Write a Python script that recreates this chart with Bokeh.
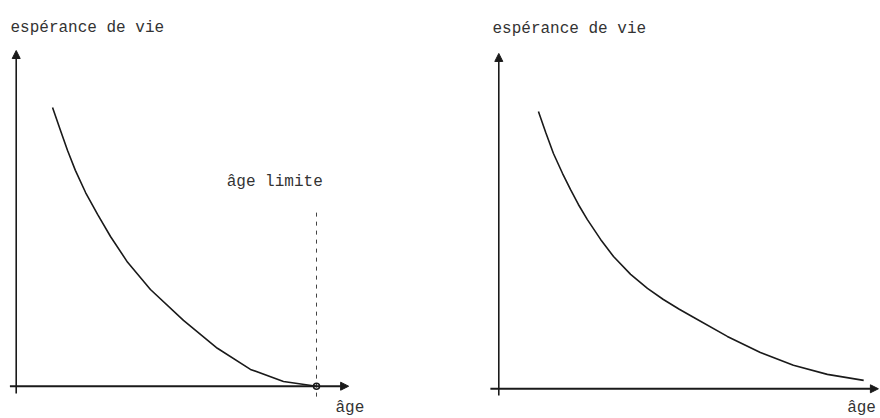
from bokeh.plotting import figure
from bokeh.layouts import row
from bokeh.models import Arrow, NormalHead, Range1d
from bokeh.embed import file_html
from bokeh.resources import INLINE
from bokeh.core.properties import value

# ---- data ----
y_title = "espérance de vie"
x_title = "âge"
limit_label = "âge limite"
age_limit = 100

left_age = [12.1, 14.75, 17.1, 19.7, 23.1, 27.1, 31.4, 37.1, 44.7, 55.7, 67.0, 78.0, 89.0, 100]
left_expect = [83.0, 76.2, 70.2, 64.3, 57.7, 51.2, 44.6, 36.9, 28.8, 19.6, 11.3, 5.0, 1.4, 0]

right_age = [13.2, 15.6, 18.2, 21.2, 23.9, 26.5, 29.5, 33.9, 38.2, 43.9, 49.5, 54.8,
             60.1, 64.8, 76.1, 87.1, 98.1, 109.4, 121.5]
right_expect = [82.6, 76.4, 70.1, 64.2, 59.3, 54.9, 50.4, 44.5, 39.4, 34.1, 29.9, 26.6,
                23.7, 21.3, 15.6, 10.8, 7.0, 4.3, 2.5]

FONT = value("Liberation Mono")
FSIZE = "16px"
INK = "#1a1a1a"
TXT = "#333333"


def make_panel(width, xr, yr, x_tip, y_tip, x_start, y_start):
    p = figure(width=width, height=418, x_range=Range1d(*xr), y_range=Range1d(*yr),
               x_axis_type=None, y_axis_type=None, toolbar_location=None,
               output_backend="svg", min_border=0, outline_line_color=None,
               background_fill_color="white", border_fill_color="white")
    p.grid.visible = False
    # axes drawn as arrows
    p.add_layout(Arrow(end=NormalHead(size=8, fill_color=INK, line_color=INK, line_width=1),
                       x_start=x_start, y_start=0, x_end=x_tip, y_end=0,
                       line_color=INK, line_width=2))
    p.add_layout(Arrow(end=NormalHead(size=8, fill_color=INK, line_color=INK, line_width=1),
                       x_start=0, y_start=y_start, x_end=0, y_end=y_tip,
                       line_color=INK, line_width=1.6))
    return p


def label(p, x, y, t):
    p.text([x], [y], text=[t], text_font=FONT, text_font_size=FSIZE,
           text_color=TXT, text_baseline="alphabetic", text_align="left")


# left panel: with age limit
p1 = make_panel(440, (-5.23, 141.29), (-9.62, 114.9), 110.7, 100, -2.1, -2.2)
p1.line(left_age, left_expect, line_color=INK, line_width=1.6)
p1.segment(x0=[age_limit], y0=[-3.1], x1=[age_limit], y1=[52.3],
           line_color="#444444", line_width=1, line_dash="4 5")
p1.scatter([age_limit], [0], size=6, marker="circle", fill_color=None,
           line_color=INK, line_width=1.5)
label(p1, -1.9, 106.6, y_title)
label(p1, 70.1, 60.7, limit_label)
label(p1, 106.3, -6.4, x_title)

# right panel: no age limit
p2 = make_panel(440, (-19.41, 127.1), (-8.85, 115.67), 126.4, 99.9, -2.8, -2.0)
p2.line(right_age, right_expect, line_color=INK, line_width=1.6)
label(p2, -2.1, 107.3, y_title)
label(p2, 116.0, -5.6, x_title)

layout = row(p1, p2, spacing=0)
open("out.html", "w").write(file_html(layout, INLINE))
